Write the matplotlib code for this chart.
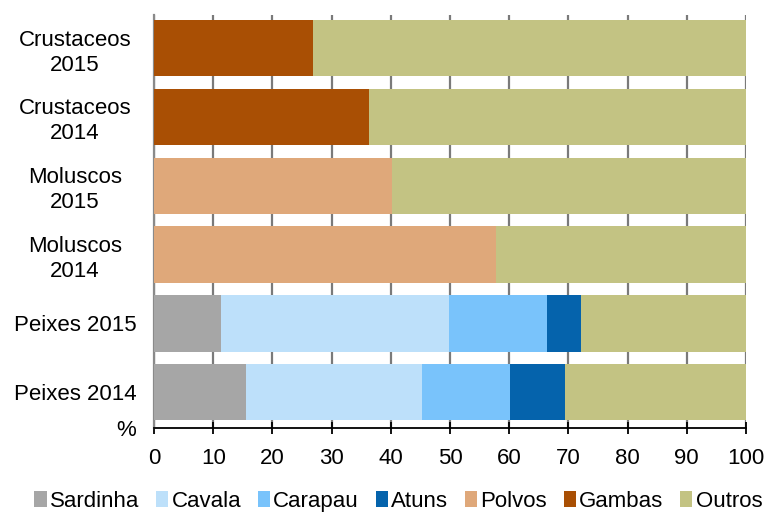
import matplotlib
matplotlib.use("Agg")
import matplotlib.pyplot as plt
import numpy as np

plt.rcParams['font.family'] = ['Liberation Sans', 'DejaVu Sans']

categories = ["Peixes 2014", "Peixes 2015", "Moluscos\n2014", "Moluscos\n2015",
              "Crustaceos\n2014", "Crustaceos\n2015"]

sardinha = [15.6, 11.4, 0, 0, 0, 0]
cavala = [29.7, 38.4, 0, 0, 0, 0]
carapau = [14.9, 16.6, 0, 0, 0, 0]
atuns = [9.2, 5.7, 0, 0, 0, 0]
polvos = [0, 0, 57.8, 40.2, 0, 0]
gambas = [0, 0, 0, 0, 36.3, 26.8]
outros = [30.6, 27.9, 42.2, 59.8, 63.7, 73.2]

series = [
    ("Sardinha", sardinha, "#a6a6a6"),
    ("Cavala", cavala, "#bde0fa"),
    ("Carapau", carapau, "#79c3fb"),
    ("Atuns", atuns, "#0563ac"),
    ("Polvos", polvos, "#dfa87a"),
    ("Gambas", gambas, "#a94f04"),
    ("Outros", outros, "#c3c383"),
]

xticks = [0, 10, 20, 30, 40, 50, 60, 70, 80, 90, 100]

fig = plt.figure(figsize=(7.72, 5.13), dpi=100)
ax = fig.add_axes([0.1995, 0.1657, 0.7668, 0.805])

y = np.arange(len(categories))
left = np.zeros(len(categories))
for name, vals, color in series:
    vals = np.array(vals, dtype=float)
    ax.barh(y, vals, left=left, height=0.82, color=color, label=name, zorder=3)
    left += vals

ax.set_xlim(0, 100)
ax.set_ylim(-0.52, 5.48)
ax.set_xticks(xticks)
ax.set_xticklabels([str(t) for t in xticks], fontsize=16)
ax.set_yticks(y)
ax.set_yticklabels(categories, fontsize=16, ha="center", linespacing=1.25)
ax.tick_params(axis="y", length=0, pad=57)
ax.tick_params(axis="x", direction="inout", length=9, width=1.3, color="black", pad=10)

ax.grid(axis="x", color="#7a7a7a", linewidth=1.6, zorder=1)
for s in ["top", "right"]:
    ax.spines[s].set_visible(False)
ax.spines["left"].set_color("#8a8a8a")
ax.spines["left"].set_linewidth(1.6)
ax.spines["bottom"].set_color("black")
ax.spines["bottom"].set_linewidth(1.3)
ax.spines["bottom"].set_zorder(4)

ax.text(-0.03, -0.005, "%", transform=ax.transAxes, ha="right", va="center", fontsize=16)

leg = fig.legend(loc="lower center", bbox_to_anchor=(0.516, -0.037), ncol=7, frameon=False,
                 fontsize=16, handlelength=0.55, handleheight=0.7, handletextpad=0.15,
                 columnspacing=0.75)

fig.savefig("out.png", dpi=100)
